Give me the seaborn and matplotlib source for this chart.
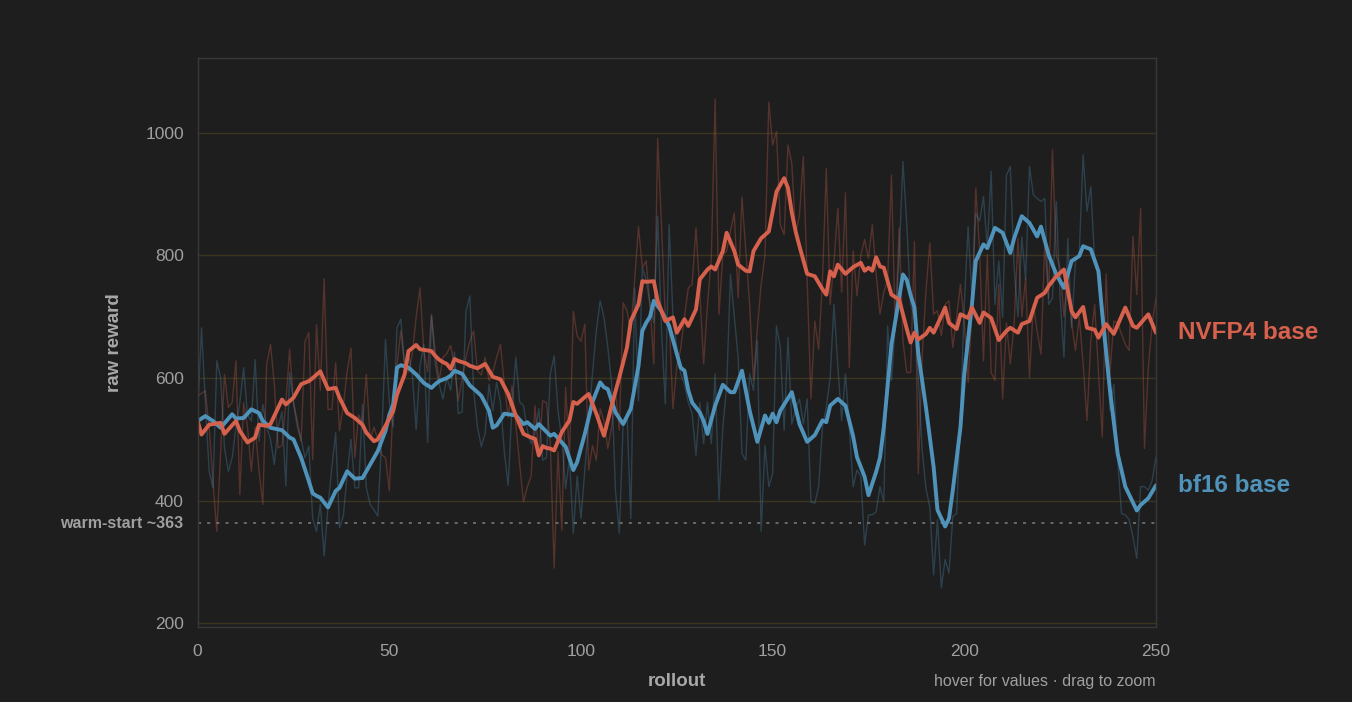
import numpy as np
import matplotlib
matplotlib.use("Agg")
import matplotlib.pyplot as plt
import matplotlib.transforms as mtransforms
import seaborn as sns

# raw reward per rollout
rollouts = np.arange(251)

nvfp4_raw = [
    571, 575, 579, 520, 430, 350, 480, 606, 552, 560,
    628, 410, 560, 520, 448, 520, 450, 394, 622, 655,
    590, 486, 490, 560, 647, 560, 530, 497, 660, 674,
    467, 687, 580, 762, 549, 549, 625, 514, 555, 611,
    649, 470, 540, 525, 606, 500, 520, 500, 475, 470,
    416, 560, 620, 677, 620, 610, 640, 700, 747, 644,
    610, 704, 640, 596, 634, 640, 653, 620, 563, 600,
    634, 660, 677, 612, 605, 634, 596, 610, 634, 655,
    590, 536, 588, 525, 460, 398, 423, 440, 555, 471,
    563, 560, 493, 290, 480, 352, 585, 470, 709, 669,
    660, 688, 450, 490, 466, 550, 530, 485, 520, 580,
    515, 723, 710, 677, 760, 847, 780, 791, 720, 623,
    991, 850, 700, 695, 550, 620, 647, 700, 747, 753,
    845, 740, 623, 720, 796, 1055, 704, 801, 807, 840,
    869, 731, 895, 807, 720, 596, 680, 753, 800, 1050,
    980, 1002, 850, 834, 980, 950, 834, 866, 961, 760,
    566, 693, 647, 760, 942, 720, 790, 877, 740, 902,
    617, 807, 734, 800, 826, 795, 850, 770, 704, 740,
    760, 931, 677, 845, 660, 609, 609, 823, 444, 634,
    742, 820, 704, 710, 669, 720, 726, 650, 700, 753,
    690, 593, 715, 910, 807, 628, 801, 609, 596, 753,
    566, 690, 623, 688, 828, 700, 763, 601, 720, 677,
    639, 820, 730, 972, 800, 780, 700, 770, 690, 645,
    700, 623, 531, 660, 720, 610, 504, 770, 607, 693,
    690, 672, 655, 645, 831, 736, 877, 485, 617, 688,
    731,
]

bf16_raw = [
    540, 682, 560, 448, 421, 628, 600, 486, 448, 470,
    520, 560, 617, 540, 530, 630, 497, 557, 520, 500,
    459, 520, 545, 424, 609, 560, 520, 500, 470, 489,
    372, 350, 394, 310, 390, 454, 511, 356, 375, 443,
    500, 421, 421, 557, 421, 394, 385, 375, 500, 663,
    560, 520, 682, 696, 620, 640, 605, 516, 620, 655,
    495, 701, 622, 590, 566, 601, 580, 642, 542, 545,
    709, 734, 580, 520, 488, 510, 590, 547, 593, 560,
    480, 425, 552, 634, 561, 555, 515, 493, 510, 550,
    466, 470, 607, 636, 547, 500, 420, 470, 347, 440,
    371, 450, 530, 607, 677, 726, 699, 650, 590, 417,
    347, 525, 540, 371, 747, 563, 780, 760, 720, 690,
    864, 680, 558, 850, 700, 650, 607, 590, 560, 542,
    474, 560, 493, 561, 493, 607, 401, 520, 585, 769,
    700, 634, 477, 466, 607, 580, 661, 350, 490, 423,
    444, 685, 650, 515, 666, 525, 550, 566, 525, 566,
    398, 396, 423, 520, 552, 600, 720, 620, 531, 607,
    520, 423, 450, 440, 328, 377, 377, 382, 423, 398,
    685, 596, 688, 800, 953, 850, 720, 700, 600, 482,
    420, 390, 279, 369, 258, 304, 282, 374, 379, 540,
    720, 847, 730, 869, 856, 896, 812, 937, 720, 791,
    699, 931, 945, 780, 700, 830, 760, 945, 899, 893,
    888, 893, 720, 730, 888, 730, 634, 828, 682, 790,
    805, 964, 872, 912, 790, 774, 720, 670, 547, 590,
    470, 379, 377, 369, 341, 306, 423, 423, 417, 433,
    471,
]

# smoothed curves
nvfp4_sm_x = [0, 1, 3, 4, 6, 7, 10, 11, 13, 15, 16, 18, 19, 22, 23, 25, 27, 29, 30, 32,
              34, 36, 37, 39, 41, 43, 44, 46, 47, 49, 51, 52, 54, 55, 57, 58, 61, 62, 63, 64,
              65, 66, 67, 68, 70, 71, 73, 75, 77, 79, 81, 83, 85, 87, 88, 89, 90, 91, 92, 93,
              95, 97, 98, 99, 101, 102, 104, 106, 108, 110, 112, 113, 115, 116, 117, 119, 120, 122, 124, 125,
              127, 128, 130, 131, 133, 134, 135, 137, 138, 140, 141, 143, 144, 145, 147, 149, 151, 153, 154, 155,
              156, 157, 159, 161, 163, 164, 165, 166, 167, 169, 171, 173, 174, 175, 176, 177, 178, 179, 181, 183,
              185, 186, 187, 188, 190, 191, 192, 194, 195, 196, 198, 199, 201, 202, 204, 205, 207, 209, 211, 212,
              214, 215, 217, 219, 221, 222, 224, 226, 228, 229, 231, 232, 234, 235, 237, 239, 242, 244, 245, 248,
              250]
nvfp4_sm_y = [530, 508, 524, 525, 527, 509, 530, 514, 495, 503, 524, 522, 525, 565, 557, 568, 590, 595, 600, 611,
              582, 584, 568, 543, 535, 524, 511, 497, 500, 522, 546, 573, 606, 644, 654, 647, 644, 636, 630, 626,
              623, 615, 631, 628, 624, 620, 616, 623, 602, 598, 574, 539, 509, 503, 501, 474, 489, 486, 485, 482,
              512, 531, 561, 558, 569, 574, 542, 506, 555, 601, 650, 693, 720, 758, 757, 758, 726, 693, 699, 674,
              696, 685, 712, 761, 777, 782, 777, 807, 837, 807, 785, 775, 774, 807, 828, 839, 904, 926, 910, 870,
              839, 815, 770, 766, 745, 736, 774, 766, 785, 770, 781, 788, 775, 780, 775, 797, 782, 780, 736, 728,
              680, 658, 674, 663, 672, 682, 674, 701, 715, 690, 680, 704, 698, 715, 690, 707, 698, 662, 677, 682,
              674, 688, 693, 731, 739, 750, 766, 777, 709, 699, 716, 682, 679, 666, 688, 672, 715, 685, 682, 704,
              674]

bf16_sm_x = [0, 2, 4, 6, 9, 10, 12, 14, 16, 17, 19, 22, 24, 25, 27, 29, 30, 31, 32, 34,
             36, 37, 39, 41, 43, 45, 47, 49, 50, 51, 52, 53, 55, 57, 59, 61, 62, 63, 65, 66,
             67, 69, 71, 73, 74, 76, 77, 78, 80, 83, 85, 86, 88, 89, 92, 93, 96, 98, 99, 101,
             103, 105, 106, 107, 109, 111, 113, 115, 116, 117, 118, 119, 121, 123, 125, 126, 127, 128, 129, 131,
             132, 133, 135, 137, 139, 140, 142, 144, 146, 148, 149, 150, 151, 152, 155, 157, 159, 161, 163, 164,
             165, 167, 169, 171, 172, 174, 175, 177, 178, 179, 181, 183, 184, 185, 186, 187, 188, 190, 192, 193,
             195, 196, 197, 199, 200, 202, 203, 205, 206, 208, 210, 212, 213, 215, 217, 219, 220, 222, 224, 226,
             228, 230, 231, 233, 235, 236, 238, 240, 242, 245, 246, 248, 250]
bf16_sm_y = [530, 538, 530, 519, 541, 534, 535, 549, 543, 530, 519, 515, 503, 500, 470, 432, 412, 408, 405, 389,
             416, 421, 448, 436, 437, 459, 481, 514, 540, 557, 617, 621, 617, 606, 592, 584, 590, 595, 600, 604,
             612, 607, 588, 577, 571, 547, 519, 523, 542, 539, 525, 528, 517, 525, 506, 509, 488, 450, 463, 509,
             561, 593, 585, 582, 544, 525, 550, 620, 677, 690, 700, 726, 709, 685, 640, 617, 612, 580, 560, 544,
             530, 509, 555, 589, 577, 577, 612, 547, 496, 539, 527, 542, 528, 547, 577, 525, 496, 507, 531, 528,
             555, 566, 555, 505, 471, 439, 409, 447, 470, 520, 655, 731, 769, 760, 735, 715, 640, 552, 455, 385,
             358, 371, 417, 520, 607, 720, 791, 818, 812, 845, 837, 804, 828, 864, 853, 831, 847, 801, 769, 747,
             791, 799, 815, 810, 774, 704, 580, 477, 423, 384, 393, 404, 425]

warm_start = 363
x_ticks = [0, 50, 100, 150, 200, 250]
y_ticks = [200, 400, 600, 800, 1000]

BG = "#1e1e1e"
RED = "#d6614c"
BLUE = "#4f93bb"
TXT = "#a0a0a0"

sns.set_theme(style="dark", rc={"axes.facecolor": BG, "figure.facecolor": BG})
plt.rcParams["font.family"] = ["Liberation Sans", "DejaVu Sans"]

fig = plt.figure(figsize=(13.52, 7.02), dpi=100)
ax = fig.add_axes([0.1462, 0.1068, 0.7088, 0.8106])
ax.set_facecolor(BG)

# faint raw lines
sns.lineplot(x=rollouts, y=nvfp4_raw, ax=ax, color=RED, alpha=0.3, linewidth=1.0, estimator=None)
sns.lineplot(x=rollouts, y=bf16_raw, ax=ax, color=BLUE, alpha=0.3, linewidth=1.0, estimator=None)
# smoothed, red on top
sns.lineplot(x=bf16_sm_x, y=bf16_sm_y, ax=ax, color=BLUE, linewidth=2.8, estimator=None)
sns.lineplot(x=nvfp4_sm_x, y=nvfp4_sm_y, ax=ax, color=RED, linewidth=2.8, estimator=None)

ax.axhline(warm_start, color="#7c7c7c", linestyle=(0, (2, 4)), linewidth=1.1, zorder=1)
trans = mtransforms.blended_transform_factory(ax.transAxes, ax.transData)
ax.text(-0.0146, warm_start, f"warm-start ~{warm_start}", transform=trans, ha="right", va="center",
        fontsize=11.5, fontweight="bold", color=TXT)

ax.set_xlim(0, 250)
ax.set_ylim(194, 1122)
ax.set_xticks(x_ticks)
ax.set_yticks(y_ticks)
ax.yaxis.grid(True, color="#3b3520", linewidth=1)
ax.xaxis.grid(False)
for s in ax.spines.values():
    s.set_visible(True)
    s.set_color("#383838")
    s.set_linewidth(1)
ax.tick_params(axis="both", colors=TXT, labelsize=12.5, length=0)
ax.tick_params(axis="x", pad=12)
ax.tick_params(axis="y", pad=10)

ax.set_xlabel("rollout", fontsize=13.5, fontweight="bold", color="#a8a8a8", labelpad=10)
ax.set_ylabel("raw reward", fontsize=13.5, fontweight="bold", color="#a8a8a8", labelpad=16)

# end labels
ax.annotate("NVFP4 base", xy=(1, nvfp4_sm_y[-1]), xycoords=trans, xytext=(16, 0),
            textcoords="offset points", ha="left", va="center", fontsize=17.5,
            fontweight="bold", color=RED, annotation_clip=False)
ax.annotate("bf16 base", xy=(1, bf16_sm_y[-1]), xycoords=trans, xytext=(16, 0),
            textcoords="offset points", ha="left", va="center", fontsize=17.5,
            fontweight="bold", color=BLUE, annotation_clip=False)

ax.text(1.0, -0.095, "hover for values \u00b7 drag to zoom", transform=ax.transAxes,
        ha="right", va="center", fontsize=11.5, color="#a0a0a0")

fig.savefig("out.png", dpi=100, facecolor=BG)
